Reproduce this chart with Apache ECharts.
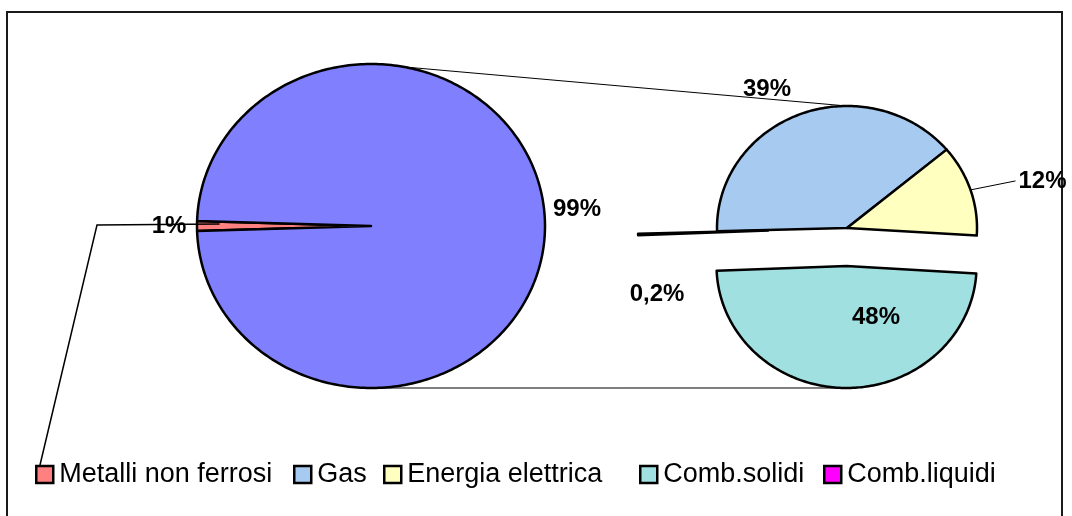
<!DOCTYPE html>
<html>
<head>
<meta charset="utf-8">
<script src="https://cdn.jsdelivr.net/npm/echarts@6/dist/echarts.min.js"></script>
<style>
  html, body { margin: 0; padding: 0; background: #ffffff; }
  #chart { width: 1072px; height: 516px; }
</style>
</head>
<body>
<div id="chart"></div>
<script>
// Ripartizione dei consumi: torta principale + torta di dettaglio dei combustibili
const categories = ['Metalli non ferrosi', 'Gas', 'Energia elettrica', 'Comb.solidi', 'Comb.liquidi'];

// torta principale: Metalli non ferrosi e quota aggregata (dettagliata a destra)
const mainNames = ['Metalli non ferrosi', 'Combustibili ed energia'];
const mainValues = [1, 99];

// torta secondaria: dettaglio della quota aggregata
const subNames = ['Gas', 'Energia elettrica', 'Comb.solidi', 'Comb.liquidi'];
const subValues = [39, 12, 48, 0.2];

const palette = {
  'Metalli non ferrosi': '#FF8080',
  'Combustibili ed energia': '#8080FF',
  'Gas': '#A6CAF0',
  'Energia elettrica': '#FFFFC0',
  'Comb.solidi': '#A0E0E0',
  'Comb.liquidi': '#FF00FF'
};

// --- layout ---
const FONT = '"Liberation Sans", Arial, Helvetica, sans-serif';
const mainPie = { cx: 371, cy: 226, rx: 174, ry: 162 };
const subPie = { cx: 847, cy: 228, rx: 130, ry: 122, startDeg: 178.5 };
const subExplode = [0, 0, 38, 79];
const mainLabelShift = [[-28, 0], [32, -17]];
const subLabelShift = [[-34, -25], [72, -9], [31, -71], [19, 60]];
const metalliLeader = { inner: 0.87, elbow: [97, 225], end: [40, 465] };
const legendLeft = [30, 288, 378, 634, 818];
const legendTop = 456;

const fmtPct = v => String(v).replace('.', ',') + '%';
const rad = d => d * Math.PI / 180;

function ellPoint(p, deg, k, dx, dy) {
  const t = rad(deg);
  return [p.cx + dx + p.rx * k * Math.cos(t), p.cy + dy + p.ry * k * Math.sin(t)];
}

// build slice geometry from the values
const slices = [];
(function () {
  const total = mainValues.reduce((a, b) => a + b, 0);
  const spanRest = 360 * mainValues[1] / total;
  let a = -spanRest / 2;
  [1, 0].forEach(i => {
    const span = 360 * mainValues[i] / total;
    slices[i] = { name: mainNames[i], pie: mainPie, from: a, to: a + span, explode: 0,
                  label: fmtPct(mainValues[i]), shift: mainLabelShift[i] };
    a += span;
  });
  const subTotal = subValues.reduce((x, y) => x + y, 0);
  let b = subPie.startDeg;
  subValues.forEach((v, i) => {
    const span = 360 * v / subTotal;
    slices.push({ name: subNames[i], pie: subPie, from: b, to: b + span, explode: subExplode[i],
                  label: fmtPct(v), shift: subLabelShift[i] });
    b += span;
  });
  slices.forEach(s => {
    const mid = (s.from + s.to) / 2;
    s.mid = mid;
    s.dx = s.explode * Math.cos(rad(mid));
    s.dy = s.explode * Math.sin(rad(mid));
    const outer = ellPoint(s.pie, mid, 1, s.dx, s.dy);
    s.outer = outer;
    s.labelPos = [outer[0] + s.shift[0], outer[1] + s.shift[1]];
  });
})();

function slicePolygon(s) {
  const p = s.pie;
  const pts = [[p.cx + s.dx, p.cy + s.dy]];
  const n = Math.max(2, Math.ceil(Math.abs(s.to - s.from)) + 1);
  for (let i = 0; i < n; i++) {
    const d = s.from + (s.to - s.from) * i / (n - 1);
    pts.push(ellPoint(p, d, 1, s.dx, s.dy));
  }
  return pts;
}

function renderSlice(params, api) {
  const s = slices[params.seriesIndex];
  return {
    type: 'group',
    children: [
      {
        type: 'polygon',
        shape: { points: slicePolygon(s) },
        style: { fill: palette[s.name], stroke: '#000000', lineWidth: 2.5, lineJoin: 'round' }
      },
      {
        type: 'text',
        x: s.labelPos[0],
        y: s.labelPos[1],
        z2: 10,
        style: {
          text: s.label, fill: '#000000', fontSize: 24, fontWeight: 'bold', fontFamily: FONT,
          align: 'center', verticalAlign: 'middle'
        }
      }
    ]
  };
}

const series = slices.map(s => ({
  type: 'custom',
  name: s.name,
  coordinateSystem: 'none',
  z: 2,
  itemStyle: { color: palette[s.name] },
  data: [[s.to - s.from]],
  renderItem: renderSlice
}));

// connectors between the two pies and leader lines
const subBottomSlice = slices[2 + 2];
const graphics = [
  {
    type: 'rect', z: 0, silent: true,
    shape: { x: 7, y: 12, width: 1055, height: 530 },
    style: { fill: null, stroke: '#1a1a1a', lineWidth: 2 }
  },
  {
    type: 'polyline', z: 1, silent: true,
    shape: { points: [[mainPie.cx, mainPie.cy - mainPie.ry], [subPie.cx, subPie.cy - subPie.ry]] },
    style: { stroke: '#000000', lineWidth: 1, fill: null }
  },
  {
    type: 'polyline', z: 1, silent: true,
    shape: { points: [[mainPie.cx, mainPie.cy + mainPie.ry],
                      [subPie.cx + subBottomSlice.dx, subPie.cy + subBottomSlice.dy + subPie.ry]] },
    style: { stroke: '#000000', lineWidth: 1, fill: null }
  },
  {
    type: 'polyline', z: 3, silent: true,
    shape: { points: [ellPoint(mainPie, slices[0].mid, metalliLeader.inner, 0, -2),
                      metalliLeader.elbow, metalliLeader.end] },
    style: { stroke: '#000000', lineWidth: 1.5, fill: null }
  },
  {
    type: 'polyline', z: 3, silent: true,
    shape: { points: [slices[3].outer, [slices[3].labelPos[0] - 27, slices[3].labelPos[1]]] },
    style: { stroke: '#000000', lineWidth: 1, fill: null }
  }
];

// one legend entry per category, each placed on the bottom row
const legends = categories.map((name, i) => ({
  data: [name],
  left: legendLeft[i],
  top: legendTop,
  orient: 'horizontal',
  icon: 'rect',
  itemWidth: 17,
  itemHeight: 17,
  itemStyle: { borderColor: '#000000', borderWidth: 2.5 },
  textStyle: { fontSize: 27, color: '#000000', fontFamily: FONT, padding: [0, 0, 0, 1] },
  selectedMode: false
}));

const chart = echarts.init(document.getElementById('chart'), null, { renderer: 'canvas' });
chart.setOption({
  animation: false,
  backgroundColor: '#ffffff',
  legend: legends,
  graphic: graphics,
  series: series
});
</script>
</body>
</html>
